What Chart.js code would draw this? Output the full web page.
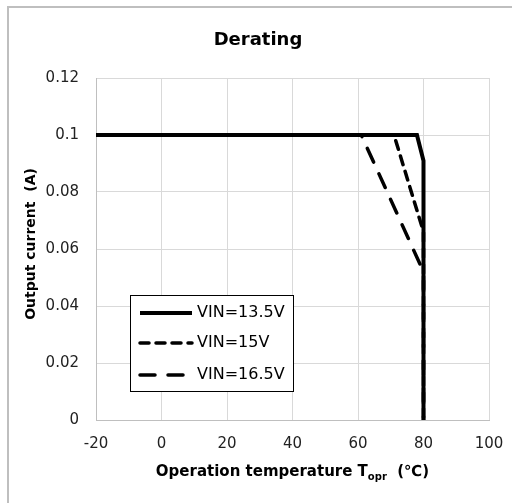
<!DOCTYPE html>
<html>
<head>
<meta charset="utf-8">
<script src="https://cdn.jsdelivr.net/npm/chart.js@4/dist/chart.umd.min.js"></script>
<style>
  html, body { margin: 0; padding: 0; background: #fff; }
  #wrap { width: 512px; height: 503px; }
</style>
</head>
<body>
<div id="wrap"><canvas id="derating" width="512" height="503"></canvas></div>
<script>
// Data
const seriesNames = ["VIN=13.5V", "VIN=15V", "VIN=16.5V"];
const temp135 = [-20, 78, 80, 80];
const curr135 = [0.1, 0.1, 0.091, 0];
const temp15 = [-20, 71, 80, 80];
const curr15 = [0.1, 0.1, 0.066, 0];
const temp165 = [-20, 61, 80, 80];
const curr165 = [0.1, 0.1, 0.052, 0];
const xTicks = [-20, 0, 20, 40, 60, 80, 100];
const yTicks = [0, 0.02, 0.04, 0.06, 0.08, 0.1, 0.12];

const FONT = "'DejaVu Sans', Verdana, sans-serif";

const toPoints = (xs, ys) => xs.map((x, i) => ({ x, y: ys[i] }));

// Title, axis titles, frame and legend drawn on top
const decor = {
  id: "decor",
  afterDraw(chart) {
    const ctx = chart.ctx;
    ctx.save();

    // outer frame (only top and left edges are inside the picture)
    ctx.strokeStyle = "#bfbfbf";
    ctx.lineWidth = 2;
    ctx.beginPath();
    ctx.moveTo(8, 503);
    ctx.lineTo(8, 7);
    ctx.lineTo(512, 7);
    ctx.stroke();

    ctx.fillStyle = "#000";
    ctx.textBaseline = "middle";

    // title
    ctx.font = "bold 18px " + FONT;
    ctx.textAlign = "center";
    ctx.fillText("Derating", 258, 40);

    // y title
    ctx.save();
    ctx.translate(31, 244);
    ctx.rotate(-Math.PI / 2);
    ctx.font = "bold 14px " + FONT;
    ctx.fillText("Output current  (A)", 0, 0);
    ctx.restore();

    // x title with subscript
    const a = "Operation temperature T", sub = "opr", b = "  (\u2103)";
    ctx.textAlign = "left";
    ctx.font = "bold 15px " + FONT;
    const wa = ctx.measureText(a).width, wb = ctx.measureText(b).width;
    ctx.font = "bold 10px " + FONT;
    const ws = ctx.measureText(sub).width;
    const area = chart.chartArea;
    let x = (area.left + area.right) / 2 - (wa + ws + wb) / 2;
    const y = 472;
    ctx.font = "bold 15px " + FONT;
    ctx.fillText(a, x, y);
    x += wa;
    ctx.font = "bold 10px " + FONT;
    ctx.fillText(sub, x, y + 5);
    x += ws;
    ctx.font = "bold 15px " + FONT;
    ctx.fillText(b, x, y);

    // legend
    ctx.fillStyle = "#fff";
    ctx.fillRect(130, 295, 163, 96);
    ctx.strokeStyle = "#000";
    ctx.lineWidth = 1;
    ctx.strokeRect(130.5, 295.5, 163, 96);
    const rows = [313, 343, 375];
    chart.data.datasets.forEach((ds, i) => {
      ctx.beginPath();
      ctx.strokeStyle = "#000";
      ctx.lineWidth = ds.borderWidth;
      ctx.lineCap = ds.borderCapStyle || "butt";
      ctx.setLineDash(ds.borderDash || []);
      ctx.moveTo(140, rows[i]);
      ctx.lineTo(192, rows[i]);
      ctx.stroke();
      ctx.setLineDash([]);
      ctx.fillStyle = "#000";
      ctx.font = "16px " + FONT;
      ctx.fillText(ds.label, 197, rows[i]);
    });

    ctx.restore();
  }
};

new Chart(document.getElementById("derating"), {
  type: "scatter",
  data: {
    datasets: [
      {
        label: seriesNames[0],
        data: toPoints(temp135, curr135),
        showLine: true,
        borderColor: "#000",
        borderWidth: 4,
        pointRadius: 0,
        order: 0
      },
      {
        label: seriesNames[1],
        data: toPoints(temp15, curr15),
        showLine: true,
        borderColor: "#000",
        borderWidth: 3.5,
        borderDash: [9, 7],
        borderCapStyle: "round",
        pointRadius: 0,
        order: 1
      },
      {
        label: seriesNames[2],
        data: toPoints(temp165, curr165),
        showLine: true,
        borderColor: "#000",
        borderWidth: 3.5,
        borderDash: [15, 13],
        borderCapStyle: "round",
        pointRadius: 0,
        order: 2
      }
    ]
  },
  options: {
    responsive: false,
    animation: false,
    layout: { padding: { left: 0, right: 23, top: 78, bottom: 0 } },
    plugins: {
      legend: { display: false },
      title: { display: false },
      tooltip: { enabled: false }
    },
    scales: {
      x: {
        type: "linear",
        min: xTicks[0],
        max: xTicks[xTicks.length - 1],
        afterBuildTicks: s => { s.ticks = xTicks.map(v => ({ value: v })); },
        afterFit: s => { s.height = 83; s.paddingLeft = 0; s.paddingRight = 0; },
        grid: { color: "#d9d9d9", drawTicks: false },
        border: { color: "#bfbfbf" },
        ticks: {
          padding: 15,
          color: "#222",
          font: { family: FONT, size: 15 },
          maxRotation: 0,
          callback: v => String(v)
        }
      },
      y: {
        min: yTicks[0],
        max: yTicks[yTicks.length - 1],
        afterBuildTicks: s => { s.ticks = yTicks.map(v => ({ value: v })); },
        afterFit: s => { s.width = 96; s.paddingTop = 0; s.paddingBottom = 0; },
        grid: { color: "#d9d9d9", drawTicks: false },
        border: { color: "#bfbfbf" },
        ticks: {
          padding: 17,
          color: "#222",
          font: { family: FONT, size: 15 },
          callback: v => String(+v.toFixed(2))
        }
      }
    }
  },
  plugins: [decor]
});
</script>
</body>
</html>
